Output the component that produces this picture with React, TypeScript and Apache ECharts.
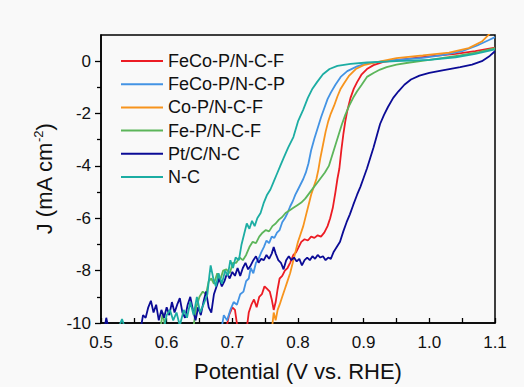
import React, { useEffect, useRef } from "react";
import * as echarts from "echarts";

const seriesNames = ["FeCo-P/N-C-F", "FeCo-P/N-C-P", "Co-P/N-C-F", "Fe-P/N-C-F", "Pt/C/N-C", "N-C"];
const seriesColors = ["#ec1c24", "#4393e4", "#f7941d", "#5cb55a", "#0b0b96", "#1cada3"];

const xTicks = [0.5, 0.6, 0.7, 0.8, 0.9, 1.0, 1.1];
const yTicks = [-10, -8, -6, -4, -2, 0];
const yMinorTicks = [-9, -7, -5, -3, -1];

const fecoPNCF = [
  [0.69, -10.3], [0.695, -9.7], [0.7, -9.4], [0.704, -9.5], [0.708, -10.2],
  [0.722, -10.2], [0.725, -9.6], [0.729, -9.3], [0.733, -9.1], [0.737, -9.4], [0.741, -9.0], [0.745, -8.9],
  [0.749, -8.6], [0.753, -8.7], [0.757, -8.8], [0.76, -9.1], [0.763, -9.5], [0.766, -9.2], [0.769, -8.7],
  [0.772, -8.3], [0.776, -8.2], [0.78, -8.0], [0.784, -7.9], [0.788, -7.7], [0.793, -7.4], [0.797, -7.3],
  [0.801, -7.1], [0.805, -6.9], [0.81, -6.8], [0.815, -6.85], [0.82, -6.7], [0.825, -6.75], [0.83, -6.65],
  [0.835, -6.7], [0.84, -6.55], [0.845, -6.3], [0.849, -6.0], [0.853, -5.6], [0.857, -5.0], [0.86, -4.5],
  [0.863, -4.1], [0.866, -3.4], [0.869, -2.8], [0.872, -2.3], [0.875, -1.9], [0.88, -1.4], [0.885, -1.05],
  [0.89, -0.8], [0.897, -0.5], [0.905, -0.3], [0.915, -0.15], [0.93, -0.03], [0.96, 0.07], [1.0, 0.18],
  [1.04, 0.28], [1.07, 0.38], [1.1, 0.52],
];

const fecoPNCP = [
  [0.683, -10.3], [0.687, -9.7], [0.692, -9.9], [0.697, -9.5], [0.702, -9.2], [0.707, -9.3], [0.712, -8.9],
  [0.717, -8.8], [0.721, -8.4], [0.725, -8.3], [0.728, -7.9], [0.732, -8.1], [0.736, -7.7], [0.74, -7.55],
  [0.744, -7.3], [0.748, -7.1], [0.752, -6.85], [0.756, -6.95], [0.76, -6.7], [0.764, -6.75], [0.768, -6.55],
  [0.772, -6.45], [0.776, -6.15], [0.78, -6.0], [0.784, -5.8], [0.788, -5.55], [0.792, -5.35], [0.796, -5.1],
  [0.8, -4.9], [0.804, -4.7], [0.808, -4.5], [0.812, -4.25], [0.816, -3.9], [0.82, -3.4], [0.825, -2.95],
  [0.83, -2.55], [0.835, -2.15], [0.84, -1.8], [0.845, -1.45], [0.85, -1.2], [0.857, -0.9], [0.865, -0.6],
  [0.875, -0.38], [0.89, -0.2], [0.905, -0.08], [0.945, 0.04], [0.99, 0.13], [1.02, 0.23], [1.05, 0.38],
  [1.073, 0.6], [1.09, 0.8], [1.1, 0.92],
];

const coPNCF = [
  [0.76, -10.3], [0.763, -9.6], [0.766, -9.9], [0.769, -9.5], [0.772, -9.3], [0.776, -9.0], [0.78, -8.7],
  [0.784, -8.4], [0.788, -8.1], [0.792, -7.7], [0.796, -7.3], [0.8, -6.9], [0.804, -6.6], [0.808, -6.3],
  [0.812, -5.9], [0.816, -5.5], [0.82, -5.1], [0.824, -4.8], [0.828, -4.5], [0.831, -4.15], [0.834, -3.7],
  [0.838, -3.2], [0.842, -2.7], [0.846, -2.3], [0.85, -2.0], [0.855, -1.7], [0.86, -1.35], [0.865, -1.05],
  [0.87, -0.85], [0.878, -0.55], [0.888, -0.3], [0.9, -0.15], [0.92, -0.04], [0.95, 0.12], [0.99, 0.22],
  [1.03, 0.33], [1.06, 0.5], [1.08, 0.75], [1.092, 1.05],
];

const fePNCF = [
  [0.59, -10.3], [0.594, -9.6], [0.598, -10.2],
  [0.64, -10.3], [0.645, -9.4], [0.65, -9.0], [0.655, -8.8], [0.66, -8.9], [0.664, -8.4], [0.668, -8.3],
  [0.672, -8.5], [0.677, -8.1], [0.681, -8.4], [0.686, -8.0], [0.691, -7.95], [0.696, -8.1], [0.701, -7.7],
  [0.706, -7.7], [0.711, -7.5], [0.716, -7.6], [0.721, -7.4], [0.726, -7.1], [0.731, -6.9], [0.736, -6.95],
  [0.741, -6.7], [0.746, -6.55], [0.751, -6.45], [0.756, -6.5], [0.761, -6.3], [0.766, -6.2], [0.771, -6.05],
  [0.776, -5.95], [0.781, -5.8], [0.787, -5.7], [0.793, -5.6], [0.799, -5.5], [0.805, -5.4], [0.811, -5.25],
  [0.817, -5.05], [0.823, -4.85], [0.829, -4.65], [0.835, -4.45], [0.841, -4.25], [0.847, -4.0], [0.852, -3.6],
  [0.857, -3.2], [0.862, -2.8], [0.867, -2.4], [0.872, -2.05], [0.878, -1.7], [0.884, -1.4], [0.89, -1.15],
  [0.897, -0.9], [0.905, -0.6], [0.915, -0.45], [0.925, -0.32], [0.935, -0.23], [0.95, -0.13], [0.97, -0.05],
  [1.0, 0.05], [1.047, 0.22], [1.075, 0.35], [1.1, 0.5],
];

const ptCNC = [
  [0.505, -10.3], [0.508, -9.8], [0.512, -10.3],
  [0.56, -10.3], [0.564, -9.7], [0.568, -9.8], [0.572, -9.4], [0.576, -9.15], [0.58, -9.6], [0.584, -9.3],
  [0.588, -9.9], [0.592, -9.5], [0.596, -9.8], [0.6, -9.4], [0.604, -9.7], [0.608, -9.2], [0.612, -9.6],
  [0.616, -9.3], [0.62, -9.05], [0.624, -9.6], [0.628, -9.8], [0.632, -9.3], [0.636, -9.0], [0.64, -9.5],
  [0.644, -9.9], [0.648, -9.4], [0.652, -9.7], [0.656, -9.2], [0.66, -8.8], [0.664, -9.4], [0.668, -9.6],
  [0.672, -8.9], [0.676, -8.6], [0.68, -8.3], [0.684, -8.6], [0.688, -8.4], [0.692, -8.1], [0.696, -8.3],
  [0.7, -8.05], [0.704, -8.2], [0.708, -7.9], [0.712, -8.2], [0.716, -7.9], [0.72, -7.7], [0.724, -7.95],
  [0.728, -7.8], [0.732, -7.6], [0.736, -7.45], [0.74, -7.7], [0.744, -7.55], [0.748, -7.6], [0.752, -7.4],
  [0.756, -7.55], [0.76, -7.35], [0.763, -7.1], [0.766, -7.35], [0.77, -7.6], [0.774, -7.7], [0.778, -7.95],
  [0.782, -7.6], [0.786, -7.45], [0.79, -7.6], [0.794, -7.5], [0.798, -7.65], [0.802, -7.55], [0.806, -7.8],
  [0.81, -7.6], [0.814, -7.5], [0.818, -7.6], [0.822, -7.45], [0.826, -7.55], [0.83, -7.4], [0.834, -7.5],
  [0.838, -7.45], [0.842, -7.6], [0.846, -7.5], [0.85, -7.55], [0.854, -7.3], [0.859, -7.1], [0.864, -6.9],
  [0.869, -6.5], [0.874, -6.15], [0.879, -5.85], [0.884, -5.5], [0.89, -5.1], [0.895, -4.8], [0.9, -4.45],
  [0.905, -4.1], [0.91, -3.7], [0.915, -3.3], [0.92, -2.85], [0.925, -2.4], [0.931, -2.05], [0.937, -1.75],
  [0.945, -1.4], [0.953, -1.15], [0.962, -0.9], [0.972, -0.7], [0.985, -0.55], [1.0, -0.45], [1.02, -0.35],
  [1.047, -0.23], [1.065, -0.13], [1.08, 0.0], [1.092, 0.2], [1.1, 0.38],
];

const nC = [
  [0.525, -10.3], [0.532, -9.85], [0.538, -10.3],
  [0.595, -10.3], [0.6, -9.7], [0.605, -9.5], [0.61, -9.9], [0.615, -9.6], [0.62, -10.1], [0.626, -9.5],
  [0.631, -9.8], [0.636, -9.2], [0.641, -9.7], [0.646, -9.0], [0.651, -9.6], [0.656, -9.3], [0.662, -8.9],
  [0.665, -8.2], [0.667, -7.8], [0.671, -8.3], [0.675, -8.6], [0.679, -8.1], [0.684, -8.5], [0.689, -8.0],
  [0.693, -8.2], [0.697, -7.6], [0.701, -7.9], [0.705, -7.5], [0.71, -7.6], [0.714, -7.0], [0.718, -6.6],
  [0.722, -6.2], [0.726, -6.4], [0.73, -6.1], [0.734, -6.3], [0.738, -6.0], [0.743, -5.8], [0.748, -5.4],
  [0.753, -5.1], [0.758, -4.9], [0.763, -4.6], [0.768, -4.3], [0.773, -4.0], [0.778, -3.7], [0.785, -3.3],
  [0.793, -2.9], [0.8, -2.3], [0.808, -1.85], [0.815, -1.4], [0.822, -1.05], [0.829, -0.8], [0.838, -0.5],
  [0.848, -0.3], [0.86, -0.18], [0.88, -0.1], [0.905, -0.05], [0.95, 0.0], [1.0, 0.05], [1.04, 0.15],
  [1.07, 0.28], [1.1, 0.45],
];

const allData = [fecoPNCF, fecoPNCP, coPNCF, fePNCF, ptCNC, nC];

const FONT = "'Liberation Sans', Arial, sans-serif";

export default function App() {
  const ref = useRef<HTMLDivElement>(null);
  useEffect(() => {
    if (!ref.current) return;
    const chart = echarts.init(ref.current, null, { renderer: "svg" });
    chart.setOption({
      animation: false,
      backgroundColor: "#f9f9f9",
      textStyle: { fontFamily: FONT },
      grid: {
        left: 101, right: 29, top: 35, bottom: 63,
        show: true, borderColor: "#000", borderWidth: 1.5, backgroundColor: "transparent",
      },
      legend: {
        data: seriesNames,
        orient: "vertical",
        left: 120,
        top: 52,
        padding: 0,
        itemWidth: 42,
        itemHeight: 14,
        itemGap: 5.2,
        itemStyle: { opacity: 0 },
        textStyle: { fontFamily: FONT, fontSize: 18, color: "#111" },
      },
      xAxis: {
        type: "value",
        min: 0.5,
        max: 1.1,
        interval: 0.1,
        name: "Potential (V vs. RHE)",
        nameLocation: "middle",
        nameGap: 37,
        nameTextStyle: { fontFamily: FONT, fontSize: 22, color: "#111" },
        axisLine: { onZero: false, lineStyle: { color: "#000", width: 1.5 } },
        axisTick: { inside: true, length: 5, lineStyle: { color: "#000", width: 1.3 } },
        minorTick: { show: true, splitNumber: 2, length: 5, lineStyle: { color: "#000", width: 1.3 } },
        axisLabel: {
          margin: 11,
          fontFamily: FONT,
          fontSize: 17,
          color: "#111",
          customValues: xTicks,
          formatter: (v: number) => v.toFixed(1),
        },
        splitLine: { show: false },
      },
      yAxis: [
        {
          type: "value",
          min: -10,
          max: 1,
          position: "left",
          name: "{a|J (mA cm}{s|-2}{a|)}",
          nameLocation: "middle",
          nameRotate: 90,
          nameGap: 38,
          nameTextStyle: {
            color: "#111",
            rich: {
              a: { fontFamily: FONT, fontSize: 22, color: "#111", lineHeight: 26 },
              s: { fontFamily: FONT, fontSize: 13, color: "#111", verticalAlign: "top", lineHeight: 14 },
            },
          },
          axisLine: { show: true, onZero: false, lineStyle: { color: "#000", width: 1.5 } },
          axisTick: { show: true, inside: false, length: 6, customValues: yTicks, lineStyle: { color: "#000", width: 1.3 } },
          axisLabel: { margin: 10, fontFamily: FONT, fontSize: 17, color: "#111", customValues: yTicks },
          splitLine: { show: false },
        },
        {
          type: "value",
          min: -10,
          max: 1,
          position: "left",
          axisLine: { show: false, onZero: false },
          axisTick: { show: true, inside: false, length: 4, customValues: yMinorTicks, lineStyle: { color: "#000", width: 1.3 } },
          axisLabel: { show: false },
          splitLine: { show: false },
        },
      ],
      series: seriesNames.map((name, i) => ({
        name,
        type: "line",
        data: allData[i],
        xAxisIndex: 0,
        yAxisIndex: 0,
        symbol: "none",
        showSymbol: false,
        clip: true,
        color: seriesColors[i],
        lineStyle: { color: seriesColors[i], width: 1.8 },
      })),
    });
    return () => chart.dispose();
  }, []);
  return (
    <div
      ref={ref}
      style={{ position: "absolute", left: 0, top: 0, width: 524, height: 387 }}
    />
  );
}
